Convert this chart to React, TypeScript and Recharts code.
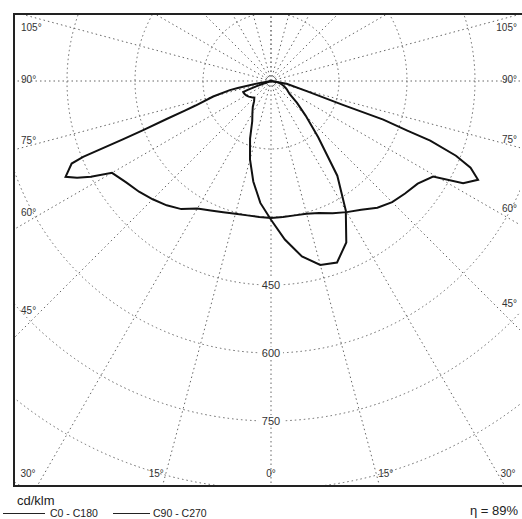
import { RadarChart, Radar, PolarGrid, PolarAngleAxis, PolarRadiusAxis } from 'recharts';

// gamma angle in degrees: 0 = straight down, negative = left half, positive = right half
const gamma = [
  -180, -90, -80, -78, -77.5, -75, -72, -71, -70, -69, -68.5, -68, -67.5, -65, -63.5, -62, -60,
  -55, -50, -45, -40, -35, -30, -25, -20, -15, -10, -5, 0, 5, 10, 15, 20, 25, 30, 35, 40, 45, 50,
  55, 59.5, 62, 64.5, 66.5, 68, 69.5, 70, 71, 71.6, 74, 80, 90, 180,
];

// cd/klm
const c0c180 = [
  0, 0, 30, 75, 93, 132, 175, 201, 245, 302, 350, 447, 476, 500, 478, 450, 405,
  390, 380, 369, 358, 345, 325, 315, 308, 303, 301, 301, 302, 301, 301, 303, 310, 322, 334, 347, 365, 378, 386,
  395, 415, 480, 506, 480, 440, 375, 320, 262, 167, 85, 35, 0, 0,
];

const c90c270 = [
  0, 0, 0, 0, 0, 0, 5, 20, 35, 55, 66, 66, 66, 65, 65, 64, 63,
  60, 56, 52, 58, 70, 82, 98, 135, 179, 225, 270, 306, 351, 393, 420, 426, 393, 330, 255, 162, 108, 75,
  50, 43, 40, 36, 33, 31, 29, 28, 27, 26, 23, 15, 0, 0,
];

const ringLabels = [450, 600, 750];

const data = gamma.map((g, i) => ({ gamma: g, c0: c0c180[i], c90: c90c270[i] }));

const W = 506;
const H = 471;
const CX = 257;
const CY = 67;
const R = 544;
const FONT = '"Liberation Sans", Arial, sans-serif';

function AngleTick(props: any) {
  const v = Number(props.payload?.value);
  if (!(Math.abs(v) <= 105)) return <g />;
  const rad = (v * Math.PI) / 180;
  const dx = Math.sin(rad);
  const dy = Math.cos(rad);
  const tx = dx > 1e-9 ? (W - CX) / dx : dx < -1e-9 ? -CX / dx : Infinity;
  const ty = dy > 1e-9 ? (H - CY) / dy : dy < -1e-9 ? -CY / dy : Infinity;
  let x: number;
  let y: number;
  let anchor: 'start' | 'end' | 'middle';
  if (tx <= ty || dy < 0) {
    const hy = dy < 0 && ty < tx ? 0 : CY + tx * dy;
    y = Math.max(13, hy - 2 - 0.1 * Math.max(0, hy - CY));
    x = dx < 0 ? 7 : W - 3;
    anchor = dx < 0 ? 'start' : 'end';
  } else {
    const hx = CX + ty * dx;
    x = Math.min(W - 12, Math.max(14, hx + 0.06 * (hx - CX)));
    y = H - 12;
    anchor = 'middle';
  }
  return (
    <text x={x} y={y} dy="0.35em" textAnchor={anchor} fontSize={10} fill="#333" fontFamily={FONT}>
      {Math.abs(v)}°
    </text>
  );
}

function RingTick(props: any) {
  const v = props.payload?.value;
  if (!ringLabels.includes(v)) return <g />;
  return (
    <g>
      <rect x={props.x - 12} y={props.y - 6} width={24} height={12} fill="#fff" />
      <text x={props.x} y={props.y} dy="0.35em" textAnchor="middle" fontSize={11} fill="#333" fontFamily={FONT}>
        {v}
      </text>
    </g>
  );
}

export default function App() {
  return (
    <div style={{ position: 'absolute', left: 0, top: 0, width: 522, height: 519, background: '#fff', fontFamily: FONT, color: '#222' }}>
      <div style={{ position: 'absolute', left: 14, top: 14, width: W, height: H, overflow: 'hidden' }}>
        <RadarChart
          width={W}
          height={H}
          data={data}
          cx={CX}
          cy={CY}
          outerRadius={R}
          startAngle={-270}
          endAngle={90}
          margin={{ top: 0, right: 0, bottom: 0, left: 0 }}
        >
          <PolarGrid gridType="circle" stroke="#666" strokeDasharray="1.5 3" innerRadius={R / 8} />
          <PolarAngleAxis
            dataKey="gamma"
            type="number"
            domain={[-180, 180]}
            tickCount={25}
            axisLine={false}
            tickLine={false}
            tick={AngleTick}
          />
          <PolarRadiusAxis type="number" domain={[0, 1200]} tickCount={9} angle={-90} axisLine={false} tick={RingTick} />
          <Radar dataKey="c0" stroke="#111" strokeWidth={2} fill="none" fillOpacity={0} dot={false} isAnimationActive={false} />
          <Radar dataKey="c90" stroke="#111" strokeWidth={2} fill="none" fillOpacity={0} dot={false} isAnimationActive={false} />
        </RadarChart>
      </div>
      <div
        style={{
          position: 'absolute',
          left: 13,
          top: 13,
          width: 509,
          height: 474,
          boxSizing: 'border-box',
          borderLeft: '2px solid #222',
          borderTop: '2px solid #222',
          borderBottom: '2px solid #222',
          pointerEvents: 'none',
        }}
      />
      <div style={{ position: 'absolute', left: 17, top: 493, fontSize: 13 }}>cd/klm</div>
      <div style={{ position: 'absolute', right: 4, top: 503, fontSize: 13 }}>η = 89%</div>
      <div style={{ position: 'absolute', left: 3, top: 513, width: 42, height: 0, borderTop: '1.5px solid #222' }} />
      <div style={{ position: 'absolute', left: 50, top: 507, fontSize: 10.5 }}>C0 - C180</div>
      <div style={{ position: 'absolute', left: 113, top: 513, width: 37, height: 0, borderTop: '1.5px solid #222' }} />
      <div style={{ position: 'absolute', left: 153, top: 507, fontSize: 10.5 }}>C90 - C270</div>
    </div>
  );
}
